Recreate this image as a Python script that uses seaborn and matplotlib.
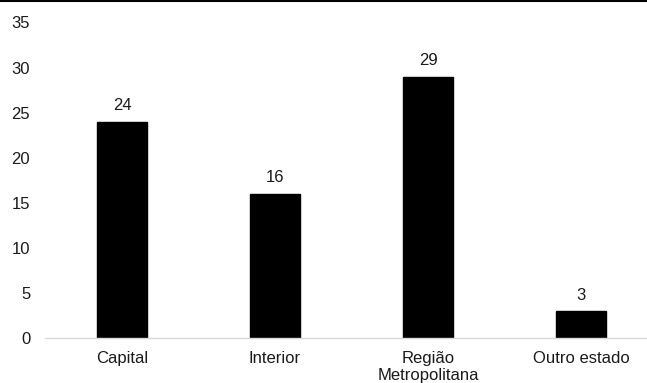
import matplotlib
matplotlib.use("Agg")
import matplotlib.pyplot as plt
import seaborn as sns
import pandas as pd
from matplotlib.lines import Line2D

categories = ["Capital", "Interior", "Região\nMetropolitana", "Outro estado"]
values = [24, 16, 29, 3]
yticks = [0, 5, 10, 15, 20, 25, 30, 35]

sns.set_theme(style="white")
plt.rcParams['font.family'] = ['Liberation Sans', 'DejaVu Sans']

df = pd.DataFrame({"cat": categories, "val": values})

fig = plt.figure(figsize=(6.47, 3.83), dpi=100)
ax = fig.add_axes([45.5/647, 45/383, 1 - 45.5/647, (338-22.5)/383])

sns.barplot(data=df, x="cat", y="val", color="black", width=0.33,
            saturation=1, ax=ax, edgecolor="black")

for i, v in enumerate(values):
    ax.annotate(str(v), (i, v), xytext=(0, 6), textcoords="offset points",
                ha="center", va="bottom", fontsize=12, color="#1a1a1a")

ax.set_ylim(0, 35)
ax.set_xlim(-0.5, -0.5 + (647 - 45.5) / 153)
ax.set_yticks(yticks)
ax.set_yticklabels([str(t) for t in yticks])
ax.tick_params(axis="both", length=0, labelsize=12, colors="#1a1a1a")
ax.tick_params(axis="y", pad=11)
ax.tick_params(axis="x", pad=9.5)
ax.set_xlabel("")
ax.set_ylabel("")
for s in ["top", "right", "left"]:
    ax.spines[s].set_visible(False)
ax.spines["bottom"].set_color("#d9d9d9")
ax.spines["bottom"].set_linewidth(1.0)
for lbl in ax.get_xticklabels():
    lbl.set_linespacing(1.15)

fig.add_artist(Line2D([0, 1], [1 - 1/383, 1 - 1/383], transform=fig.transFigure,
                      color="black", linewidth=1.5))

fig.savefig("out.png", dpi=100)
